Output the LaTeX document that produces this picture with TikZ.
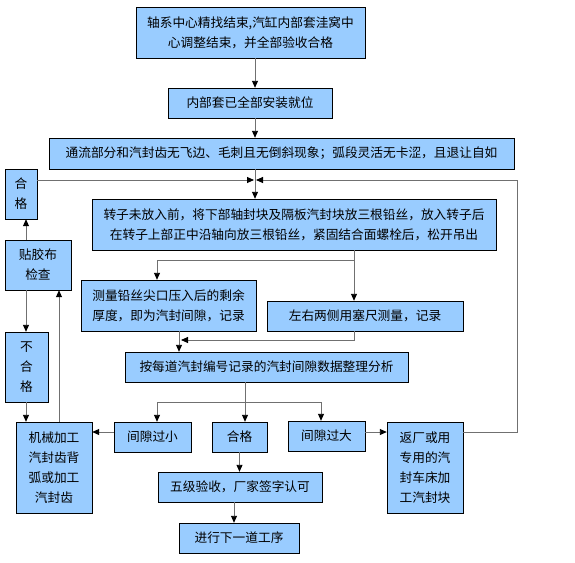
\documentclass[tikz,border=0pt]{standalone}
\usepackage{fontspec}
\setmainfont{Noto Sans CJK SC}
\usepackage{tikz}
\usetikzlibrary{positioning}
\usetikzlibrary{arrows.meta}
\usepackage{xcolor}
\definecolor{boxblue}{HTML}{99CCFF}
\definecolor{linegray}{HTML}{707070}

\begin{document}
\begin{tikzpicture}[>={Triangle[length=7pt,width=6pt,color=black]}, x=1pt, y=-1pt,
    box/.style={draw, fill=boxblue, inner sep=0pt, align=center, font=\fontsize{12.7}{20}\selectfont},
    flow/.style={->, draw=linegray, line width=0.9pt}]
    \useasboundingbox (0,0) rectangle (575,562);
    \node[box, minimum width=229pt, minimum height=51pt] (axis) at (250.5,32.5) {轴系中心精找结束,汽缸内部套洼窝中\\心调整结束，并全部验收合格};
    \node[box, minimum width=164pt, minimum height=30pt] (inner) at (250,103) {内部套已全部安装就位};
    \node[box, minimum width=465pt, minimum height=31pt] (surface) at (281.5,153.5) {通流部分和汽封齿无飞边、毛刺且无倒斜现象；弧段灵活无卡涩，且退让自如};
    \node[box, minimum width=404pt, minimum height=51pt] (wire) at (294,224.5) {转子未放入前，将下部轴封块及隔板汽封块放三根铅丝，放入转子后\\在转子上部正中沿轴向放三根铅丝，紧固结合面螺栓后，松开吊出};
    \node[box, minimum width=175pt, minimum height=51pt] (lead) at (168.5,305.5) {测量铅丝尖口压入后的剩余\\厚度，即为汽封间隙，记录};
    \node[box, minimum width=196pt, minimum height=30pt] (feeler) at (365,316) {左右两侧用塞尺测量，记录};
    \node[box, minimum width=283pt, minimum height=30pt] (sum) at (266.5,367) {按每道汽封编号记录的汽封间隙数据整理分析};
    \node[box, minimum width=77pt, minimum height=30pt] (small) at (152.5,437) {间隙过小};
    \node[box, minimum width=55pt, minimum height=30pt] (okmid) at (239.5,437) {合格};
    \node[box, minimum width=77pt, minimum height=30pt] (large) at (326.5,436) {间隙过大};
    \node[box, minimum width=76pt, minimum height=91pt] (mach) at (54,467.5) {机械加工\\汽封齿背\\弧或加工\\汽封齿};
    \node[box, minimum width=76pt, minimum height=91pt] (ret) at (425,467.5) {返厂或用\\专用的汽\\封车床加\\工汽封块};
    \node[box, minimum width=164pt, minimum height=30pt] (five) at (240,487) {五级验收，厂家签字认可};
    \node[box, minimum width=120pt, minimum height=30pt] (next) at (239,538) {进行下一道工序};
    \node[box, minimum width=32pt, minimum height=50pt] (okleft) at (21,194) {合\\格};
    \node[box, minimum width=66pt, minimum height=50pt] (tape) at (38,265) {贴胶布\\检查};
    \node[box, minimum width=43pt, minimum height=70pt] (bad) at (26.5,367) {不\\合\\格};

    % main spine
    \coordinate (join) at (255,180);
    \draw[flow] (axis.south -| join) -- (inner.north -| join);
    \draw[flow] (inner.south -| join) -- (surface.north -| join);
    \draw[flow] (surface.south -| join) -- (wire.north -| join);
    \draw[flow] (okleft.east |- join) -- ([xshift=-1pt]join);
    \coordinate (row) at (0,432);
    \coordinate (back) at (517,180);
    \draw[flow] (ret.east |- row) -| (back) -- ([xshift=1pt]join);

    % measuring
    \coordinate (split) at (354,260);
    \draw[flow] (wire.south -| split) -- (feeler.north -| split);
    \draw[flow] (split) -| ([xshift=-11.5pt]lead.north);
    \draw[flow] ([xshift=10.5pt]lead.south) -- ([xshift=10.5pt]lead.south |- sum.north);
    \coordinate (merge) at (181,340);
    \draw[flow] ([xshift=-11pt]feeler.south) |- (merge);

    % analysis
    \coordinate (fork) at (245,402);
    \draw[flow] (sum.south -| fork) -- (okmid.north -| fork);
    \draw[flow] (fork) -| ([xshift=4.5pt]small.north);
    \draw[flow] (fork) -| ([xshift=-5.5pt]large.north);
    \draw[flow] (small.west |- row) -- (mach.east |- row);
    \draw[flow] (large.east |- row) -- (ret.west |- row);
    \draw[flow] (okmid.south) -- (okmid.south |- five.north);
    \draw[flow] ([xshift=-6pt]five.south) -- ([xshift=-6pt]five.south |- next.north);

    % left loop
    \coordinate (leftx) at (26,0);
    \coordinate (upx) at (59,0);
    \draw[flow] (tape.north -| leftx) -- (okleft.south -| leftx);
    \draw[flow] (tape.south -| leftx) -- (bad.north -| leftx);
    \draw[flow] (bad.south -| leftx) -- (mach.north -| leftx);
    \draw[flow] (mach.north -| upx) -- (tape.south -| upx);
\end{tikzpicture}
\end{document}
